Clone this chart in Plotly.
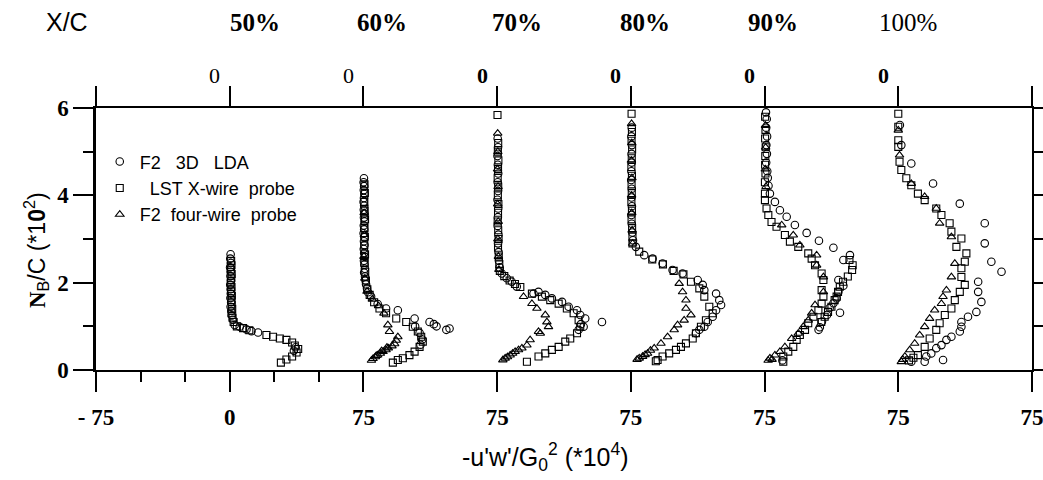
import plotly.graph_objects as go

# ---------------- data ----------------
STATIONS = ["50%", "60%", "70%", "80%", "90%", "100%"]
STATION_ZERO = [0, 75, 150, 225, 300, 375]          # x offset of each station's zero
STATION_LABEL_BOLD = [True, True, True, True, True, False]
ZERO_LABEL_BOLD = [False, False, True, True, True, True]

X_TICKS = [-75, 0, 75, 150, 225, 300, 375, 450]
X_TICK_TEXT = ["- 75", "0", "75", "75", "75", "75", "75", "75"]
Y_TICKS = [0, 2, 4, 6]
Y_TICK_TEXT = ["0", "2", "4", "6"]

# (u relative to station zero, N_B/C) pairs
LDA_50 = [(0.5, 2.65), (0.3, 2.55), (0.6, 2.45), (0.2, 2.35), (0.5, 2.25), (0.4, 2.15), (0.7, 2.05),
          (0.3, 1.95), (0.5, 1.85), (0.6, 1.75), (0.4, 1.65), (0.8, 1.55), (0.5, 1.45), (0.9, 1.35),
          (1.2, 1.25), (1.8, 1.15), (2.8, 1.03), (5.6, 0.99), (9.4, 0.93), (12.2, 0.89), (15.9, 0.86),
          (37.0, 0.52), (36.0, 0.44)]
LST_50 = [(0.8, 2.50), (1.0, 2.40), (0.7, 2.30), (1.1, 2.20), (0.9, 2.10), (0.6, 2.00), (1.0, 1.90),
          (0.8, 1.80), (1.2, 1.70), (0.9, 1.60), (1.1, 1.50), (1.4, 1.40), (1.0, 1.30), (1.6, 1.20),
          (2.2, 1.10), (4.0, 1.00), (7.5, 0.96), (11.0, 0.91), (20.6, 0.80), (24.3, 0.76), (28.1, 0.72),
          (31.8, 0.69), (35.0, 0.63), (36.5, 0.56), (38.4, 0.48), (37.5, 0.40), (35.0, 0.31),
          (31.8, 0.24), (28.7, 0.17)]
FW_50 = []

LDA_60 = [(0.3, 4.39), (0.1, 4.30), (0.4, 4.21), (0.2, 4.12), (0.5, 4.03), (0.3, 3.94), (0.1, 3.85),
          (0.4, 3.76), (0.2, 3.67), (0.5, 3.58), (0.3, 3.49), (0.6, 3.40), (0.2, 3.31), (0.4, 3.22),
          (0.1, 3.13), (0.5, 3.04), (0.3, 2.95), (0.6, 2.86), (0.2, 2.77), (0.4, 2.68), (0.7, 2.59),
          (0.3, 2.50), (0.5, 2.41), (0.8, 2.32), (0.4, 2.23), (0.9, 2.14), (1.2, 2.05), (1.5, 1.96),
          (2.0, 1.87), (2.6, 1.78), (4.3, 1.68), (8.0, 1.51), (12.7, 1.41), (19.3, 1.37), (28.7, 1.18),
          (37.1, 1.10), (39.5, 1.05), (41.0, 1.00), (48.3, 0.95), (46.5, 0.92), (29.0, 1.00),
          (31.5, 0.85), (33.0, 0.70), (32.0, 0.58)]
LST_60 = [(0.6, 4.25), (0.8, 4.05), (0.5, 3.85), (0.7, 3.65), (0.9, 3.45), (0.6, 3.25), (0.8, 3.05),
          (0.5, 2.85), (0.9, 2.65), (0.7, 2.45), (1.0, 2.25), (1.4, 2.05), (2.2, 1.85), (3.5, 1.72),
          (6.0, 1.55), (9.0, 1.41), (12.7, 1.30), (18.4, 1.18), (24.0, 1.10), (27.7, 0.99), (30.5, 0.88),
          (32.4, 0.76), (33.3, 0.65), (31.5, 0.53), (28.7, 0.42), (25.8, 0.34), (22.1, 0.27),
          (19.3, 0.23), (16.5, 0.17)]
FW_60 = [(0.4, 3.60), (0.5, 3.10), (0.3, 2.60), (0.8, 2.10), (2.0, 1.80), (5.0, 1.62), (8.5, 1.47),
         (11.5, 1.30), (13.7, 1.03), (14.6, 0.88), (19.3, 0.76), (18.4, 0.68), (17.5, 0.60), (16.0, 0.55),
         (14.0, 0.50), (12.7, 0.46), (11.0, 0.42), (9.5, 0.38), (8.0, 0.34), (6.7, 0.30), (5.4, 0.26),
         (4.5, 0.22), (10.2, 0.44), (7.2, 0.33), (13.2, 0.52)]

LDA_70 = [(0.3, 5.30), (0.5, 5.10), (0.2, 4.90), (0.4, 4.70), (0.6, 4.50), (0.3, 4.30), (0.5, 4.10),
          (0.2, 3.90), (0.6, 3.70), (0.4, 3.50), (0.3, 3.30), (0.7, 3.10), (0.5, 2.90), (0.8, 2.70),
          (1.0, 2.50), (1.4, 2.35), (2.6, 2.21), (5.4, 2.10), (8.2, 2.02), (11.0, 1.91), (20.4, 1.75),
          (23.2, 1.79), (27.0, 1.72), (30.7, 1.64), (36.4, 1.56), (40.1, 1.45), (44.8, 1.37),
          (46.6, 1.26), (49.4, 1.18), (48.5, 0.99), (47.0, 1.05), (45.7, 0.92), (58.8, 1.10)]
LST_70 = [(0.2, 5.84), (0.6, 5.20), (0.4, 5.00), (0.7, 4.80), (0.5, 4.60), (0.3, 4.40), (0.6, 4.20),
          (0.4, 4.00), (0.7, 3.80), (0.5, 3.60), (0.3, 3.40), (0.6, 3.20), (0.8, 3.00), (0.5, 2.80),
          (0.9, 2.60), (1.2, 2.42), (1.5, 2.27), (4.0, 2.15), (7.0, 2.05), (10.0, 1.97), (13.0, 1.90),
          (19.5, 1.75), (25.1, 1.68), (29.8, 1.60), (34.5, 1.52), (39.1, 1.41), (42.9, 1.30),
          (45.7, 1.14), (46.6, 0.99), (44.8, 0.84), (41.0, 0.72), (38.2, 0.65), (34.5, 0.53),
          (30.7, 0.46), (27.0, 0.38), (23.2, 0.31), (16.7, 0.19)]
FW_70 = [(0.3, 5.42), (0.4, 5.00), (0.2, 4.60), (0.5, 4.20), (0.3, 3.80), (0.6, 3.40), (0.4, 3.00),
         (0.7, 2.60), (1.0, 2.30), (14.8, 1.68), (19.5, 1.52), (22.3, 1.41), (27.0, 1.26), (27.9, 1.10),
         (28.8, 0.99), (23.2, 0.88), (24.2, 0.84), (18.5, 0.69), (16.7, 0.57), (13.9, 0.50), (10.1, 0.42),
         (7.3, 0.34), (4.5, 0.27), (3.2, 0.23), (12.0, 0.46), (8.7, 0.38), (5.8, 0.30)]

LDA_80 = [(0.5, 5.55), (0.3, 5.35), (0.6, 5.15), (0.4, 4.95), (0.5, 4.75), (0.3, 4.55), (0.2, 4.35),
          (0.5, 4.15), (0.4, 3.95), (0.6, 3.75), (0.3, 3.55), (0.5, 3.35), (0.8, 3.15), (1.2, 2.97),
          (2.8, 2.82), (7.5, 2.63), (12.2, 2.55), (17.8, 2.44), (23.4, 2.29), (29.0, 2.21), (37.5, 2.06),
          (40.3, 1.95), (41.2, 1.83), (47.8, 1.75), (49.6, 1.60), (50.6, 1.49), (47.8, 1.37),
          (45.9, 1.22), (43.1, 1.10), (41.2, 0.99), (38.4, 0.92), (36.5, 0.84)]
LST_80 = [(0.4, 5.87), (0.6, 5.45), (0.4, 5.25), (0.7, 5.05), (0.5, 4.85), (0.3, 4.65), (0.6, 4.45),
          (0.4, 4.25), (0.5, 4.05), (0.3, 3.85), (0.6, 3.65), (0.4, 3.45), (0.7, 3.25), (0.9, 3.05),
          (0.9, 2.90), (4.7, 2.71), (12.0, 2.53), (18.0, 2.42), (24.0, 2.27), (29.5, 2.19), (33.7, 2.02),
          (38.4, 1.87), (41.2, 1.68), (44.0, 1.45), (45.9, 1.30), (42.1, 1.14), (39.3, 0.99),
          (36.5, 0.84), (34.7, 0.72), (30.9, 0.61), (28.1, 0.53), (25.3, 0.46), (21.5, 0.38),
          (17.8, 0.31), (15.0, 0.23), (14.0, 0.20)]
FW_80 = [(0.4, 5.64), (0.5, 5.20), (0.3, 4.80), (0.6, 4.40), (0.4, 4.00), (0.5, 3.60), (0.7, 3.20),
         (1.0, 2.90), (27.1, 1.98), (29.0, 1.79), (30.9, 1.60), (30.9, 1.41), (33.7, 1.26), (29.9, 1.14),
         (26.2, 1.03), (24.3, 0.92), (20.6, 0.76), (16.9, 0.61), (13.1, 0.50), (9.4, 0.38), (6.6, 0.31),
         (4.7, 0.27), (3.5, 0.24), (8.0, 0.35), (11.0, 0.45)]

LDA_90 = [(0.8, 5.90), (1.2, 5.75), (0.9, 5.55), (1.4, 5.35), (1.0, 5.15), (1.3, 4.95), (0.9, 4.75),
          (1.5, 4.55), (1.8, 4.40), (2.2, 4.22), (3.0, 4.04), (5.8, 3.85), (8.6, 3.66), (12.4, 3.51),
          (17.0, 3.32), (23.6, 3.14), (30.5, 2.96), (38.6, 2.80), (47.9, 2.63), (44.2, 2.52),
          (41.4, 2.06), (44.2, 1.93), (41.4, 1.79), (40.4, 1.64), (38.6, 1.53), (36.5, 1.42),
          (42.3, 1.31), (35.0, 1.26), (32.2, 1.11), (31.0, 0.98), (30.3, 0.92), (10.0, 0.22)]
LST_90 = [(0.3, 5.80), (0.5, 5.50), (0.3, 5.30), (0.6, 5.10), (0.4, 4.90), (0.3, 4.70), (0.5, 4.50),
          (0.2, 4.30), (0.2, 4.04), (0.2, 3.89), (1.1, 3.70), (2.1, 3.55), (3.9, 3.39), (6.7, 3.28),
          (11.4, 3.09), (14.2, 2.94), (18.9, 2.82), (24.5, 2.67), (26.4, 2.55), (28.3, 2.40),
          (32.0, 2.21), (33.0, 2.06), (32.0, 1.83), (33.0, 1.68), (32.0, 1.52), (30.2, 1.37),
          (27.4, 1.22), (24.5, 1.07), (22.7, 0.92), (19.8, 0.80), (18.0, 0.69), (16.1, 0.53),
          (13.3, 0.42), (10.5, 0.31), (10.5, 0.19), (47.6, 2.52), (49.4, 2.40), (49.1, 2.29),
          (46.7, 2.14), (44.0, 2.02), (42.2, 1.91), (41.2, 1.79), (40.4, 1.68), (39.3, 1.60),
          (37.5, 1.45), (35.6, 1.33), (33.7, 1.22), (31.8, 1.10)]
FW_90 = [(0.5, 5.60), (0.6, 5.10), (0.4, 4.60), (0.8, 4.20), (9.6, 3.32), (16.1, 3.09), (19.8, 2.86),
         (29.2, 2.63), (29.2, 2.40), (33.0, 2.13), (33.0, 1.79), (28.3, 1.49), (26.4, 1.30), (24.5, 1.14),
         (21.7, 0.99), (18.9, 0.84), (15.2, 0.72), (11.4, 0.53), (8.6, 0.42), (5.8, 0.34), (3.0, 0.27),
         (2.0, 0.22), (4.2, 0.24)]

LDA_100 = [(0.9, 5.61), (1.7, 5.15), (7.3, 4.73), (19.5, 4.27), (34.5, 3.81), (48.5, 3.36), (48.5, 2.90),
           (52.2, 2.48), (57.9, 2.25), (44.8, 2.02), (44.8, 1.79), (46.6, 1.56), (43.8, 1.33),
           (39.1, 1.22), (35.4, 1.10), (35.4, 0.99), (34.5, 0.88), (29.8, 0.76), (27.0, 0.69),
           (24.2, 0.57), (21.3, 0.50), (18.5, 0.38), (15.7, 0.31), (14.8, 0.19), (25.1, 0.23), (7.3, 0.19)]
LST_100 = [(0.0, 5.87), (0.0, 5.57), (0.0, 5.26), (0.0, 5.11), (0.7, 4.77), (1.7, 4.58), (4.5, 4.39),
           (7.3, 4.23), (11.0, 4.04), (14.8, 3.89), (21.3, 3.70), (24.2, 3.55), (28.8, 3.36), (29.8, 3.17),
           (35.4, 3.01), (32.6, 2.82), (38.2, 2.67), (37.3, 2.48), (35.4, 2.33), (35.4, 2.13), (37.3, 1.95),
           (34.5, 1.79), (31.7, 1.60), (29.8, 1.41), (26.1, 1.26), (23.2, 1.07), (21.3, 0.92), (17.6, 0.72),
           (14.8, 0.53), (11.0, 0.34), (6.0, 0.22), (8.5, 0.28)]
FW_100 = [(0.0, 5.49), (0.7, 4.92), (7.3, 4.27), (14.8, 3.97), (21.3, 3.70), (23.2, 3.36), (29.8, 3.05),
          (31.7, 2.44), (29.8, 2.13), (27.0, 1.83), (25.1, 1.68), (24.2, 1.52), (20.4, 1.37), (17.6, 1.18),
          (14.8, 0.99), (12.0, 0.80), (9.2, 0.61), (6.4, 0.46), (3.7, 0.31), (1.7, 0.19), (2.5, 0.24)]

LDA = [LDA_50, LDA_60, LDA_70, LDA_80, LDA_90, LDA_100]
LST = [LST_50, LST_60, LST_70, LST_80, LST_90, LST_100]
FW = [FW_50, FW_60, FW_70, FW_80, FW_90, FW_100]

SERIES = [
    ("F2   3D   LDA", LDA, "circle-open", 7.5),
    ("  LST X-wire  probe", LST, "square-open", 7),
    ("F2  four-wire  probe", FW, "triangle-up-open", 7.5),
]

# ---------------- figure ----------------
W, H = 1043, 480
ML, MR, MT, MB = 96, 11, 108, 110
PW, PH = W - ML - MR, H - MT - MB

SERIF = "Liberation Serif, Times New Roman, serif"
SANS = "Liberation Sans, Arial, sans-serif"

fig = go.Figure()
for name, stations, symbol, size in SERIES:
    xs, ys = [], []
    for zero, pts in zip(STATION_ZERO, stations):
        for u, z in pts:
            xs.append(zero + u)
            ys.append(z)
    fig.add_trace(go.Scatter(
        x=xs, y=ys, mode="markers", name=name.replace(" ", "\u00a0"),
        marker=dict(symbol=symbol, size=size, color="black", line=dict(width=1.1, color="black")),
    ))

# invisible trace holding the mirrored top/right axes
fig.add_trace(go.Scatter(x=[None], y=[None], xaxis="x2", yaxis="y2",
                         showlegend=False, hoverinfo="skip"))

XR = [X_TICKS[0], X_TICKS[-1]]

fig.update_layout(
    width=W, height=H,
    margin=dict(l=ML, r=MR, t=MT, b=MB, pad=0, autoexpand=False),
    paper_bgcolor="white", plot_bgcolor="white",
    showlegend=True,
    legend=dict(x=0.004, y=0.865, xanchor="left", yanchor="top",
                font=dict(family=SANS, size=18, color="black"),
                bgcolor="rgba(0,0,0,0)", traceorder="normal", itemwidth=30),
    xaxis=dict(range=XR, tickmode="array", tickvals=X_TICKS, ticktext=X_TICK_TEXT,
               ticks="outside", ticklen=20, tickwidth=2, tickcolor="black",
               showline=True, linewidth=2.2, linecolor="black", automargin=False,
               showgrid=False, zeroline=False, ticklabelstandoff=5,
               ticklabeloverflow="allow",
               tickfont=dict(family=SERIF, size=23, color="black", weight="bold"),
               minor=dict(tickmode="array", tickvals=[-50, -25, 25, 50], ticks="outside",
                          ticklen=10, tickwidth=1.5, tickcolor="black", showgrid=False)),
    xaxis2=dict(range=XR, overlaying="x", side="top", tickmode="array", tickvals=X_TICKS,
                ticks="outside", ticklen=20, tickwidth=2, tickcolor="black", automargin=False,
                showticklabels=False, showline=True, linewidth=2.2, linecolor="black",
                showgrid=False, zeroline=False),
    yaxis=dict(range=[0, 6], tickmode="array", tickvals=Y_TICKS, ticktext=Y_TICK_TEXT,
               ticks="outside", ticklen=20, tickwidth=2, tickcolor="black", automargin=False,
               showline=True, linewidth=2.5, linecolor="black",
               showgrid=False, zeroline=False,
               tickfont=dict(family=SERIF, size=23, color="black", weight="bold"),
               minor=dict(tickmode="array", tickvals=[1, 3, 5], ticks="outside",
                          ticklen=10, tickwidth=1.5, tickcolor="black", showgrid=False)),
    yaxis2=dict(range=[0, 6], overlaying="y", side="right", tickmode="array",
                tickvals=[0, 1, 2, 3, 4, 5, 6], ticks="outside", ticklen=10, tickwidth=1.5,
                tickcolor="black", showticklabels=False, showline=True, linewidth=2,
                linecolor="black", showgrid=False, zeroline=False, automargin=False),
)


def px_x(px):
    return (px - ML) / PW


def px_y(py):
    return (H - MB - py) / PH


C = dict(xanchor="center", yanchor="middle", showarrow=False)
ann = []
ann.append(dict(text="X/C", x=px_x(67), y=px_y(22), xref="paper", yref="paper",
                font=dict(family=SANS, size=25, color="black"), **C))
PCT_SHIFT = [25, 19, 20, 14, 8, 10]
for lab, zero, bold, sh in zip(STATIONS, STATION_ZERO, STATION_LABEL_BOLD, PCT_SHIFT):
    ann.append(dict(text=f"<b>{lab}</b>" if bold else lab, x=zero, xref="x",
                    y=px_y(22), yref="paper", xshift=sh,
                    font=dict(family=SERIF, size=25, color="black"), **C))
for zero, bold in zip(STATION_ZERO, ZERO_LABEL_BOLD):
    ann.append(dict(text="<b>0</b>" if bold else "0", x=zero, xref="x",
                    y=px_y(75), yref="paper", xshift=-15,
                    font=dict(family=SERIF, size=22, color="black"), **C))
ann.append(dict(text="-u'w'/G<sub>0</sub><sup>2</sup> (*10<sup>4</sup>)",
                x=px_x(545), y=px_y(457), xref="paper", yref="paper",
                font=dict(family=SANS, size=25, color="black"), **C))
ann.append(dict(text="<span style='font-family:Liberation Serif'><b>N</b></span><sub>B</sub>/C (*1<b>0</b><sup>2</sup>)",
                x=px_x(36), y=px_y(250), xref="paper", yref="paper", textangle=-90,
                font=dict(family=SANS, size=23, color="black"), **C))
fig.update_layout(annotations=ann)

fig.write_html("out.html", config={"displayModeBar": False},
               post_script="document.body.style.margin='0';document.body.style.overflow='hidden';")
